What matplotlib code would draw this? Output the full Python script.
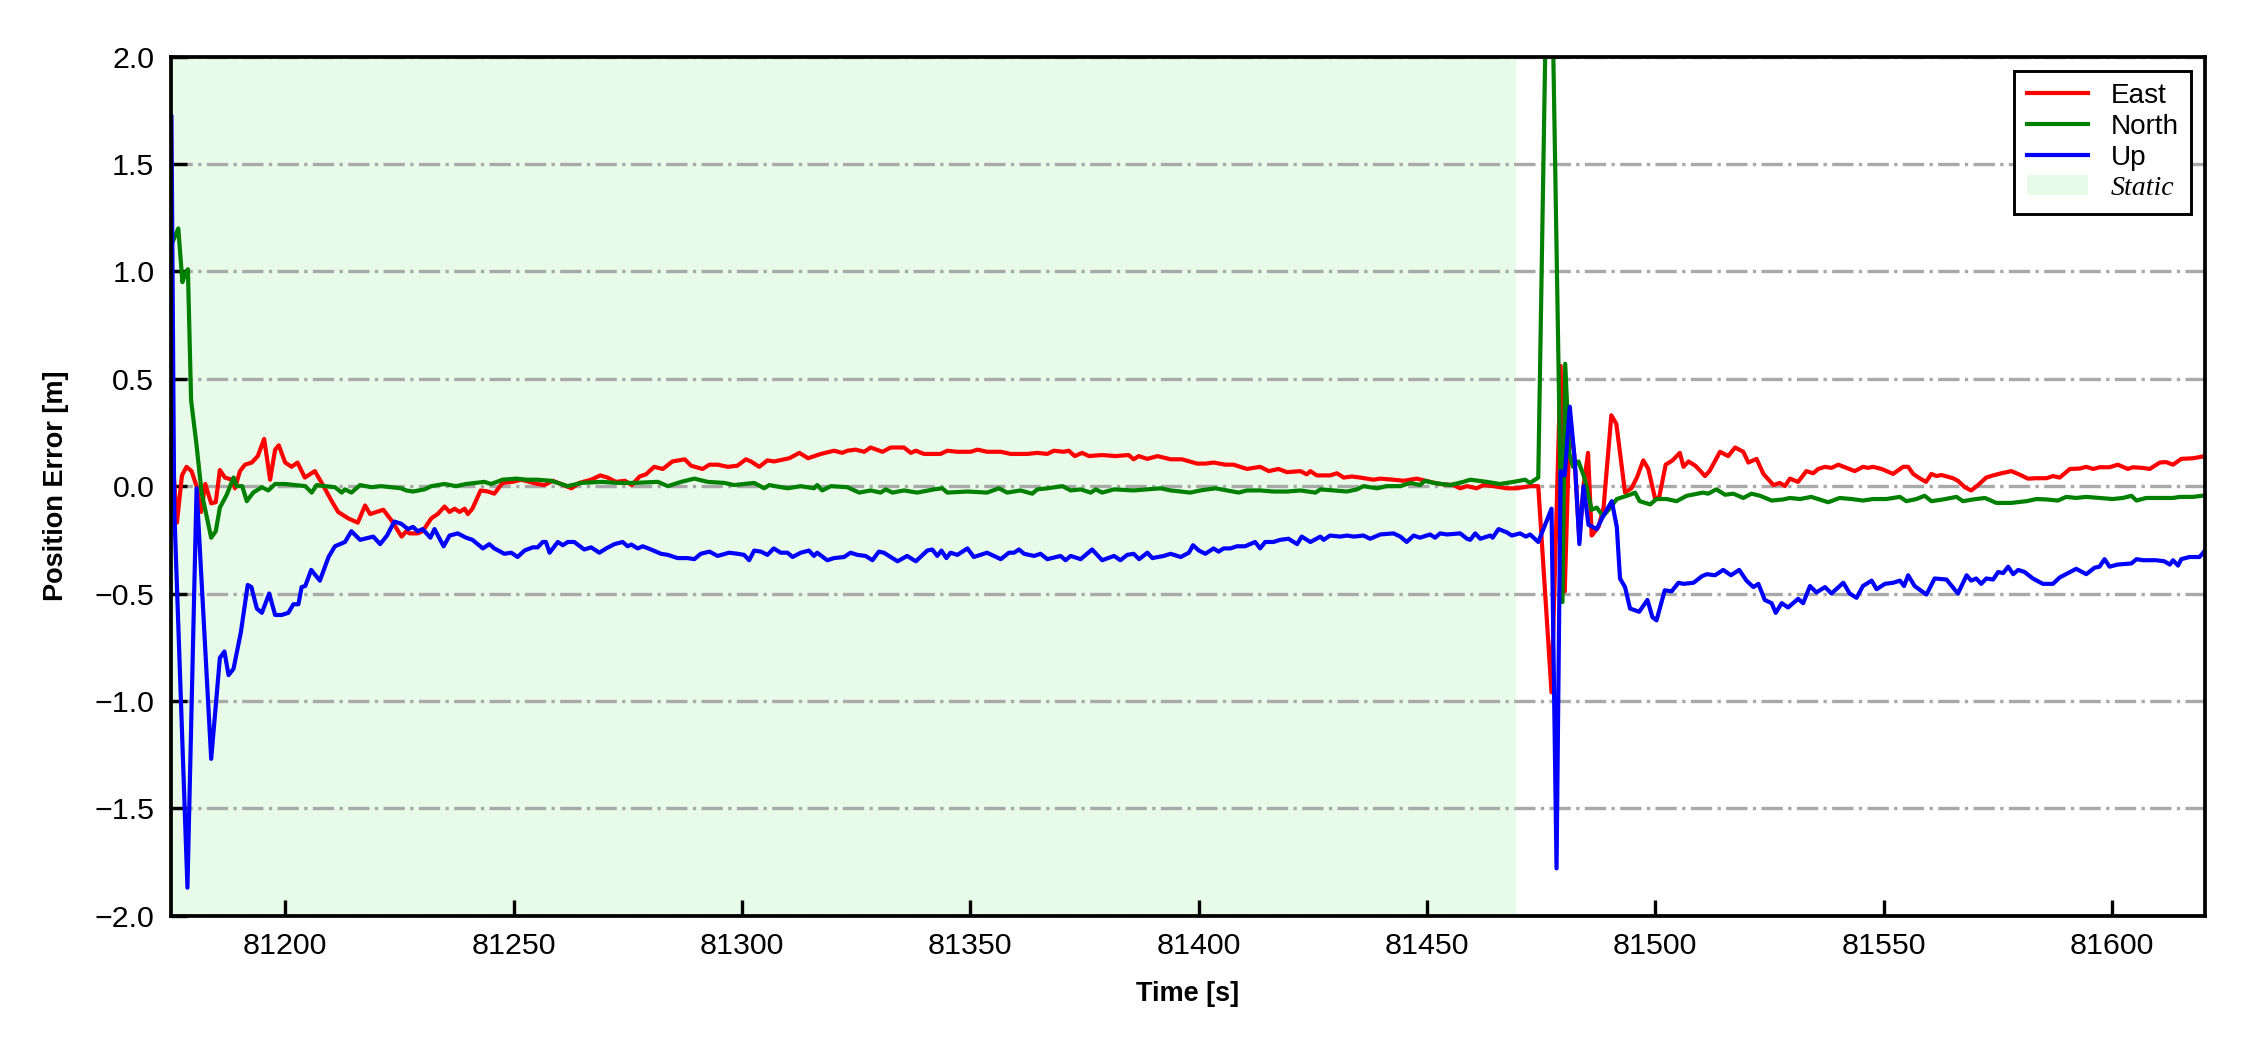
import numpy as np
import matplotlib.pyplot as plt
from matplotlib.patches import Patch

plt.rcParams['font.family'] = ['Liberation Sans', 'DejaVu Sans']

t_east = [81175.2, 81176.3, 81177.4, 81178.4, 81179.5, 81180.6, 81181.6, 81182.5, 81183.8, 81184.8,
          81185.7, 81186.8, 81188.3, 81189.0, 81190.1, 81191.2, 81192.7, 81194.0, 81195.4, 81196.7,
          81197.8, 81198.6, 81200.0, 81201.4, 81202.7, 81204.3, 81206.5, 81208.4, 81210.2, 81211.6,
          81213.8, 81215.9, 81217.5, 81218.6, 81221.5, 81223.3, 81225.5, 81226.5, 81227.2, 81229.0,
          81230.1, 81232.0, 81233.4, 81234.9, 81236.0, 81237.1, 81238.2, 81239.3, 81240.0, 81241.0,
          81242.8, 81244.4, 81245.8, 81247.6, 81249.8, 81251.7, 81253.5, 81255.3, 81256.8, 81258.6,
          81260.4, 81262.7, 81264.4, 81267.0, 81269.0, 81270.6, 81272.4, 81274.4, 81275.9, 81277.6,
          81279.0, 81280.8, 81282.7, 81284.8, 81287.5, 81288.9, 81291.4, 81292.9, 81294.7, 81296.9,
          81299.0, 81300.9, 81302.0, 81303.8, 81305.6, 81307.1, 81310.4, 81312.6, 81314.5, 81317.3,
          81320.2, 81322.0, 81323.1, 81324.9, 81326.8, 81328.2, 81330.8, 81332.6, 81335.5, 81337.0,
          81338.1, 81339.9, 81343.5, 81345.0, 81347.2, 81350.1, 81351.6, 81353.7, 81356.7, 81358.9,
          81362.5, 81364.7, 81366.9, 81368.3, 81370.5, 81371.6, 81372.9, 81374.5, 81376.0, 81378.9,
          81381.8, 81384.7, 81385.8, 81386.9, 81388.8, 81391.0, 81393.9, 81396.4, 81399.7, 81401.5,
          81403.3, 81405.9, 81407.7, 81410.6, 81412.0, 81413.5, 81415.4, 81417.5, 81419.4, 81422.3,
          81423.7, 81424.5, 81425.9, 81428.8, 81430.3, 81431.8, 81433.6, 81435.4, 81438.3, 81439.8,
          81442.7, 81444.9, 81447.8, 81450.7, 81452.9, 81455.8, 81457.3, 81458.8, 81460.9, 81462.4,
          81464.6, 81467.5, 81469.7, 81472.6, 81474.4, 81477.3, 81479.3, 81480.2, 81481.3, 81482.3,
          81483.4, 81484.3, 81485.3, 81486.1, 81487.6, 81488.7, 81490.4, 81491.5, 81493.4, 81494.8,
          81496.0, 81497.4, 81498.5, 81500.0, 81500.9, 81502.3, 81503.8, 81505.4, 81506.2, 81507.3,
          81508.8, 81509.8, 81510.9, 81511.9, 81514.2, 81516.0, 81517.5, 81519.3, 81520.4, 81522.2,
          81523.7, 81525.9, 81527.3, 81528.4, 81529.5, 81531.3, 81533.1, 81534.6, 81535.7, 81537.2,
          81538.6, 81540.1, 81541.9, 81543.7, 81545.5, 81546.6, 81547.7, 81549.6, 81552.1, 81554.3,
          81555.4, 81556.5, 81557.9, 81559.3, 81560.5, 81561.6, 81562.7, 81565.2, 81566.3, 81567.8,
          81569.2, 81570.7, 81572.5, 81574.0, 81575.8, 81578.0, 81580.2, 81581.6, 81583.5, 81585.7,
          81587.1, 81588.6, 81590.8, 81593.0, 81594.4, 81595.9, 81597.3, 81599.5, 81601.3, 81603.5,
          81604.6, 81606.8, 81608.3, 81610.5, 81611.9, 81613.4, 81615.2, 81617.8, 81620.4]
east = [0.18, -0.17, 0.05, 0.09, 0.07, 0.0, -0.12, 0.01, -0.08, -0.075,
        0.075, 0.04, 0.03, -0.01, 0.07, 0.10, 0.11, 0.14, 0.22, 0.03,
        0.17, 0.19, 0.11, 0.09, 0.11, 0.04, 0.07, 0.0, -0.07, -0.12,
        -0.15, -0.17, -0.09, -0.13, -0.11, -0.16, -0.235, -0.21, -0.22, -0.22,
        -0.21, -0.15, -0.13, -0.095, -0.12, -0.105, -0.12, -0.105, -0.13, -0.105,
        -0.02, -0.025, -0.035, 0.015, 0.02, 0.03, 0.02, 0.01, 0.005, 0.025,
        0.01, -0.01, 0.015, 0.03, 0.05, 0.04, 0.02, 0.025, 0.005, 0.045,
        0.055, 0.09, 0.08, 0.115, 0.125, 0.095, 0.08, 0.10, 0.10, 0.09,
        0.095, 0.125, 0.115, 0.09, 0.12, 0.115, 0.13, 0.155, 0.13, 0.15,
        0.165, 0.155, 0.165, 0.17, 0.16, 0.18, 0.16, 0.18, 0.18, 0.155,
        0.165, 0.15, 0.15, 0.165, 0.16, 0.16, 0.17, 0.16, 0.16, 0.15,
        0.15, 0.155, 0.15, 0.165, 0.16, 0.165, 0.14, 0.155, 0.14, 0.145,
        0.14, 0.145, 0.125, 0.14, 0.127, 0.14, 0.125, 0.125, 0.105, 0.105,
        0.11, 0.10, 0.10, 0.08, 0.085, 0.09, 0.07, 0.08, 0.065, 0.07,
        0.055, 0.07, 0.05, 0.05, 0.06, 0.04, 0.045, 0.04, 0.03, 0.035,
        0.03, 0.025, 0.035, 0.02, 0.01, 0.005, -0.01, 0.0, -0.01, 0.005,
        0.0, -0.01, -0.01, 0.0, 0.0, -0.96, 0.56, -0.49, 0.32, 0.14,
        -0.25, 0.0, 0.155, -0.23, -0.19, -0.10, 0.33, 0.29, -0.03, -0.01,
        0.04, 0.12, 0.08, -0.06, -0.05, 0.10, 0.12, 0.155, 0.09, 0.115,
        0.095, 0.073, 0.047, 0.07, 0.16, 0.14, 0.18, 0.16, 0.11, 0.127,
        0.057, 0.005, 0.015, 0.0, 0.035, 0.02, 0.07, 0.06, 0.08, 0.09,
        0.085, 0.10, 0.085, 0.07, 0.09, 0.085, 0.09, 0.08, 0.057, 0.09,
        0.09, 0.057, 0.037, 0.02, 0.057, 0.047, 0.052, 0.037, 0.025, -0.005,
        -0.02, 0.005, 0.04, 0.05, 0.06, 0.07, 0.05, 0.035, 0.037, 0.037,
        0.047, 0.04, 0.08, 0.082, 0.09, 0.08, 0.088, 0.088, 0.10, 0.08,
        0.088, 0.085, 0.08, 0.11, 0.112, 0.10, 0.127, 0.13, 0.14]

t_north = [81175.2, 81175.8, 81176.6, 81177.5, 81178.1, 81178.7, 81179.4, 81180.6, 81181.7, 81183.8,
           81184.8, 81185.7, 81187.2, 81188.7, 81189.4, 81190.6, 81191.6, 81193.0, 81194.9, 81196.3,
           81197.8, 81200.0, 81202.2, 81204.4, 81205.8, 81206.9, 81208.7, 81210.9, 81212.4, 81213.1,
           81214.5, 81216.4, 81218.9, 81221.0, 81225.4, 81226.5, 81228.0, 81230.5, 81232.0, 81234.9,
           81237.4, 81239.6, 81243.6, 81245.1, 81247.6, 81250.6, 81252.9, 81255.3, 81258.2, 81261.9,
           81264.8, 81269.2, 81272.8, 81276.5, 81281.6, 81283.8, 81286.7, 81289.6, 81292.5, 81296.2,
           81298.3, 81302.7, 81304.9, 81306.0, 81310.0, 81312.9, 81315.8, 81316.5, 81317.6, 81319.5,
           81323.1, 81325.7, 81328.2, 81330.4, 81331.5, 81333.0, 81335.5, 81338.4, 81342.1, 81343.9,
           81345.0, 81349.4, 81353.7, 81356.3, 81358.1, 81361.0, 81363.6, 81364.7, 81366.9, 81370.2,
           81372.0, 81374.2, 81376.4, 81377.5, 81378.9, 81381.5, 81385.8, 81388.8, 81391.7, 81393.9,
           81398.2, 81400.4, 81402.0, 81403.7, 81406.2, 81408.8, 81410.6, 81413.5, 81416.4, 81419.4,
           81422.3, 81425.6, 81426.7, 81429.6, 81432.5, 81434.7, 81436.1, 81439.1, 81441.2, 81444.2,
           81446.4, 81448.5, 81449.6, 81451.5, 81455.1, 81458.0, 81459.5, 81461.3, 81463.1, 81466.0,
           81469.0, 81471.5, 81472.6, 81474.4, 81476.8, 81479.7, 81480.3, 81481.2, 81482.0, 81483.2,
           81484.5, 81486.1, 81487.2, 81488.6, 81489.8, 81491.6, 81494.5, 81495.6, 81496.6, 81498.9,
           81500.3, 81502.5, 81504.7, 81506.9, 81510.5, 81511.6, 81513.4, 81515.3, 81517.1, 81519.3,
           81521.1, 81523.0, 81525.5, 81528.0, 81529.5, 81531.7, 81534.2, 81535.7, 81537.9, 81540.4,
           81543.0, 81545.5, 81547.7, 81550.6, 81553.6, 81555.0, 81557.2, 81559.0, 81560.5, 81563.0,
           81566.0, 81567.4, 81569.6, 81572.2, 81574.7, 81578.0, 81581.3, 81583.5, 81585.7, 81588.2,
           81590.0, 81592.2, 81594.4, 81597.3, 81600.2, 81602.4, 81604.3, 81605.4, 81607.5, 81610.5,
           81613.4, 81614.9, 81617.8, 81620.4]
north = [1.13, 1.16, 1.20, 0.95, 0.99, 1.01, 0.40, 0.19, -0.03, -0.24,
         -0.21, -0.10, -0.04, 0.04, 0.0, 0.0, -0.07, -0.03, -0.005, -0.02,
         0.01, 0.01, 0.005, 0.0, -0.03, 0.005, 0.0, -0.005, -0.03, -0.015,
         -0.03, 0.005, -0.005, 0.0, -0.01, -0.02, -0.025, -0.015, 0.0, 0.01,
         0.0, 0.01, 0.02, 0.01, 0.03, 0.035, 0.03, 0.03, 0.025, 0.0,
         0.015, 0.02, 0.015, 0.015, 0.02, 0.0, 0.02, 0.035, 0.02, 0.015,
         0.005, 0.015, -0.01, 0.005, -0.01, 0.0, -0.01, 0.005, -0.02, 0.0,
         -0.005, -0.03, -0.02, -0.03, -0.015, -0.03, -0.02, -0.03, -0.015, -0.01,
         -0.03, -0.025, -0.03, -0.01, -0.03, -0.02, -0.035, -0.015, -0.01, 0.0,
         -0.02, -0.015, -0.03, -0.015, -0.03, -0.015, -0.02, -0.015, -0.01, -0.02,
         -0.03, -0.02, -0.015, -0.01, -0.02, -0.03, -0.02, -0.02, -0.025, -0.025,
         -0.02, -0.03, -0.015, -0.02, -0.025, -0.015, 0.0, -0.01, 0.0, 0.0,
         0.015, 0.005, 0.025, 0.015, 0.005, 0.02, 0.03, 0.025, 0.02, 0.01,
         0.02, 0.03, 0.015, 0.04, 3.15, -0.54, 0.57, 0.15, 0.09, 0.115,
         0.04, -0.11, -0.10, -0.14, -0.11, -0.06, -0.04, -0.03, -0.07, -0.085,
         -0.06, -0.06, -0.07, -0.045, -0.03, -0.035, -0.015, -0.04, -0.035, -0.055,
         -0.035, -0.045, -0.067, -0.062, -0.055, -0.06, -0.05, -0.06, -0.075, -0.055,
         -0.06, -0.067, -0.06, -0.06, -0.05, -0.07, -0.06, -0.045, -0.07, -0.062,
         -0.05, -0.07, -0.062, -0.055, -0.078, -0.078, -0.07, -0.06, -0.062, -0.067,
         -0.05, -0.055, -0.05, -0.055, -0.06, -0.055, -0.045, -0.067, -0.055, -0.055,
         -0.055, -0.05, -0.05, -0.043]

t_up = [81175.1, 81175.7, 81178.6, 81180.6, 81183.8, 81185.7, 81186.7, 81187.6, 81188.7, 81190.3,
        81191.8, 81192.6, 81193.8, 81194.9, 81196.5, 81197.8, 81199.2, 81200.7, 81201.8, 81202.9,
        81203.6, 81204.4, 81205.7, 81207.6, 81209.5, 81210.9, 81213.1, 81214.5, 81216.4, 81219.3,
        81220.8, 81222.3, 81223.9, 81225.4, 81226.9, 81228.0, 81229.0, 81230.1, 81231.8, 81232.7,
        81234.7, 81236.0, 81237.8, 81239.6, 81241.0, 81243.3, 81244.7, 81245.8, 81248.0, 81249.5,
        81250.9, 81252.4, 81254.2, 81255.3, 81256.4, 81257.1, 81257.9, 81259.7, 81260.8, 81261.9,
        81263.3, 81265.5, 81267.0, 81268.8, 81270.3, 81272.1, 81273.9, 81275.0, 81275.8, 81277.2,
        81278.3, 81280.1, 81282.3, 81283.8, 81285.9, 81288.1, 81289.6, 81291.0, 81292.9, 81294.7,
        81297.2, 81299.1, 81300.5, 81301.6, 81302.7, 81304.2, 81305.6, 81307.0, 81308.5, 81310.0,
        81311.1, 81312.9, 81314.7, 81315.8, 81316.5, 81318.7, 81320.2, 81322.4, 81323.8, 81325.3,
        81327.1, 81328.6, 81330.0, 81331.1, 81334.1, 81336.2, 81338.1, 81340.6, 81341.7, 81342.8,
        81343.7, 81344.8, 81345.7, 81347.2, 81349.4, 81350.8, 81353.7, 81356.7, 81358.5, 81359.6,
        81360.7, 81361.8, 81364.0, 81365.4, 81366.9, 81369.8, 81370.9, 81372.0, 81374.2, 81375.3,
        81376.7, 81378.9, 81381.5, 81382.9, 81384.4, 81385.8, 81387.0, 81388.8, 81389.9, 81392.4,
        81393.9, 81396.1, 81397.9, 81398.8, 81400.1, 81401.5, 81403.3, 81404.4, 81405.5, 81407.0,
        81408.4, 81410.2, 81412.4, 81413.5, 81414.6, 81416.4, 81417.9, 81419.7, 81421.6, 81422.6,
        81424.5, 81426.7, 81427.4, 81428.8, 81431.0, 81432.5, 81434.0, 81436.1, 81437.6, 81439.8,
        81442.7, 81444.2, 81445.6, 81447.1, 81448.5, 81450.7, 81451.8, 81452.9, 81454.4, 81457.3,
        81458.8, 81459.5, 81460.6, 81461.7, 81463.9, 81464.4, 81465.7, 81467.5, 81468.6, 81470.4,
        81471.7, 81472.6, 81474.4, 81477.3, 81478.4, 81479.3, 81480.2, 81481.3, 81482.4, 81483.4,
        81484.3, 81485.4, 81487.2, 81488.6, 81490.5, 81491.6, 81492.3, 81493.4, 81494.5, 81496.5,
        81498.3, 81499.4, 81500.3, 81502.1, 81503.6, 81505.1, 81506.2, 81508.4, 81510.2, 81511.3,
        81513.1, 81514.9, 81516.6, 81518.4, 81520.0, 81521.5, 81522.6, 81524.0, 81525.5, 81526.4,
        81527.7, 81529.1, 81531.3, 81532.4, 81533.9, 81535.3, 81537.2, 81538.6, 81541.2, 81542.6,
        81544.1, 81545.5, 81547.4, 81548.5, 81550.3, 81552.1, 81553.6, 81554.5, 81555.4, 81556.8,
        81559.4, 81561.2, 81563.8, 81566.3, 81568.2, 81569.2, 81570.3, 81571.4, 81572.5, 81574.0,
        81575.1, 81576.2, 81577.3, 81578.4, 81579.5, 81580.9, 81582.7, 81584.9, 81587.1, 81588.6,
        81590.4, 81592.2, 81594.4, 81596.2, 81597.3, 81598.4, 81599.5, 81601.3, 81604.3, 81605.4,
        81606.8, 81609.7, 81611.5, 81612.7, 81613.4, 81614.5, 81615.2, 81617.0, 81619.2, 81620.4]
up = [1.72, -0.10, -1.87, -0.01, -1.27, -0.80, -0.77, -0.88, -0.85, -0.68,
      -0.46, -0.47, -0.57, -0.59, -0.50, -0.60, -0.60, -0.59, -0.55, -0.55,
      -0.47, -0.465, -0.39, -0.44, -0.33, -0.28, -0.26, -0.21, -0.25, -0.235,
      -0.27, -0.23, -0.165, -0.175, -0.20, -0.19, -0.21, -0.20, -0.24, -0.20,
      -0.28, -0.23, -0.22, -0.24, -0.25, -0.29, -0.27, -0.29, -0.315, -0.31,
      -0.33, -0.30, -0.285, -0.285, -0.26, -0.26, -0.31, -0.26, -0.275, -0.26,
      -0.26, -0.295, -0.285, -0.31, -0.29, -0.27, -0.26, -0.28, -0.272, -0.29,
      -0.28, -0.295, -0.315, -0.32, -0.335, -0.335, -0.34, -0.315, -0.305, -0.325,
      -0.31, -0.315, -0.32, -0.345, -0.30, -0.305, -0.32, -0.29, -0.31, -0.31,
      -0.33, -0.31, -0.30, -0.325, -0.31, -0.345, -0.335, -0.33, -0.31, -0.32,
      -0.325, -0.345, -0.305, -0.31, -0.35, -0.325, -0.35, -0.30, -0.295, -0.325,
      -0.30, -0.335, -0.31, -0.32, -0.29, -0.33, -0.31, -0.34, -0.31, -0.31,
      -0.295, -0.315, -0.325, -0.315, -0.34, -0.325, -0.345, -0.325, -0.34, -0.32,
      -0.295, -0.345, -0.325, -0.345, -0.32, -0.315, -0.34, -0.31, -0.335, -0.325,
      -0.315, -0.33, -0.31, -0.275, -0.30, -0.315, -0.29, -0.305, -0.29, -0.29,
      -0.28, -0.28, -0.26, -0.29, -0.26, -0.26, -0.25, -0.245, -0.27, -0.235,
      -0.26, -0.235, -0.25, -0.23, -0.235, -0.23, -0.235, -0.23, -0.245, -0.225,
      -0.22, -0.235, -0.26, -0.23, -0.24, -0.225, -0.24, -0.22, -0.225, -0.22,
      -0.245, -0.25, -0.22, -0.245, -0.23, -0.24, -0.20, -0.215, -0.23, -0.22,
      -0.235, -0.225, -0.26, -0.105, -1.78, 0.07, 0.05, 0.37, 0.12, -0.27,
      0.0, -0.18, -0.20, -0.14, -0.07, -0.19, -0.43, -0.47, -0.57, -0.585,
      -0.53, -0.61, -0.625, -0.485, -0.49, -0.45, -0.455, -0.45, -0.42, -0.41,
      -0.415, -0.39, -0.415, -0.39, -0.44, -0.47, -0.455, -0.53, -0.545, -0.59,
      -0.545, -0.565, -0.525, -0.545, -0.465, -0.495, -0.47, -0.50, -0.45, -0.50,
      -0.52, -0.465, -0.44, -0.48, -0.455, -0.45, -0.44, -0.465, -0.415, -0.465,
      -0.505, -0.43, -0.435, -0.50, -0.415, -0.44, -0.43, -0.455, -0.43, -0.435,
      -0.40, -0.405, -0.375, -0.41, -0.39, -0.40, -0.43, -0.455, -0.455, -0.425,
      -0.405, -0.385, -0.41, -0.38, -0.375, -0.34, -0.375, -0.365, -0.36, -0.34,
      -0.345, -0.345, -0.35, -0.365, -0.345, -0.37, -0.34, -0.33, -0.33, -0.30]

static_start = 81175.0
static_end = 81469.5

fig = plt.figure(figsize=(7.5, 3.5), dpi=300)
ax = fig.add_axes([0.076, 0.128, 0.904, 0.818])

ax.axvspan(static_start, static_end, color='lightgreen', alpha=0.2, lw=0, zorder=0)
ax.plot(t_east, east, color='red', lw=1.0, label='East')
ax.plot(t_north, north, color='green', lw=1.0, label='North')
ax.plot(t_up, up, color='blue', lw=1.0, label='Up')

ax.set_xlim(81175, 81620.4)
ax.set_ylim(-2.0, 2.0)
ax.set_xticks(np.arange(81200, 81601, 50))
ax.set_yticks(np.arange(-2.0, 2.01, 0.5))
ax.yaxis.grid(True, ls='-.', color='darkgray', lw=0.8)
ax.set_axisbelow(True)
ax.tick_params(direction='in', length=3.8, width=0.8, labelsize=7.3, pad=4)
for s in ax.spines.values():
    s.set_linewidth(0.9)

ax.set_xlabel('Time [s]', fontsize=6.5, fontweight='bold', labelpad=5)
ax.set_ylabel('Position Error [m]', fontsize=6.5, fontweight='bold', labelpad=6)

handles, labels = ax.get_legend_handles_labels()
handles.append(Patch(facecolor='lightgreen', alpha=0.2, edgecolor='none'))
labels.append('Static')
leg = ax.legend(handles, labels, loc='upper right', fontsize=6.7, fancybox=False,
                edgecolor='black', framealpha=1, labelspacing=0.17,
                handlelength=2.2, handletextpad=0.8, borderpad=0.45)
leg.get_frame().set_linewidth(0.7)
st = leg.get_texts()[3]
st.set_fontfamily(['Liberation Serif', 'DejaVu Serif'])
st.set_fontstyle('italic')

fig.savefig('out.png', dpi=300)
